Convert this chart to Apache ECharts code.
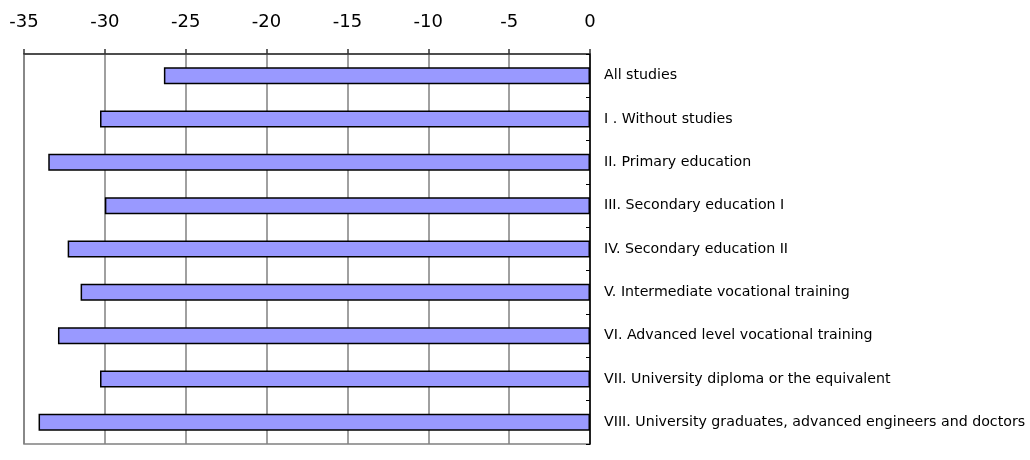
<!DOCTYPE html>
<html>
<head>
<meta charset="utf-8">
<script src="https://cdn.jsdelivr.net/npm/echarts@6/dist/echarts.min.js"></script>
<style>html,body{margin:0;padding:0;background:#fff}#c{width:1030px;height:460px}</style>
</head>
<body>
<div id="c"></div>
<script>
const categories = [
  "All studies",
  "I . Without studies",
  "II. Primary education",
  "III. Secondary education I",
  "IV. Secondary education II",
  "V. Intermediate vocational training",
  "VI. Advanced level vocational training",
  "VII. University diploma or the equivalent",
  "VIII. University graduates, advanced engineers and doctors"
];
const values = [-26.35, -30.3, -33.5, -30.0, -32.3, -31.5, -32.9, -30.3, -34.1];
const axisMin = -35, axisMax = 0, axisStep = 5;

const chart = echarts.init(document.getElementById('c'), null, {renderer: 'canvas'});
chart.setOption({
  animation: false,
  backgroundColor: '#fff',
  grid: {left: 24, right: 440, top: 54, bottom: 16, containLabel: false,
         show: true, borderColor: '#808080', borderWidth: 1.5, backgroundColor: 'transparent'},
  xAxis: {
    type: 'value', position: 'top', min: axisMin, max: axisMax, interval: axisStep,
    axisLine: {show: true, onZero: false, lineStyle: {color: '#333', width: 1.5}},
    axisTick: {show: true, length: 5, lineStyle: {color: '#333', width: 1.5}},
    axisLabel: {color: '#000', fontSize: 18, fontFamily: 'DejaVu Sans, sans-serif', margin: 23},
    splitLine: {show: true, lineStyle: {color: '#808080', width: 1.5}}
  },
  yAxis: {
    type: 'category', data: categories, inverse: true, position: 'right',
    axisLine: {show: true, onZero: false, lineStyle: {color: '#000', width: 1.5}},
    axisTick: {show: true, inside: true, length: 4, lineStyle: {color: '#000', width: 1}},
    axisLabel: {color: '#000', fontSize: 14.2, fontFamily: 'DejaVu Sans, sans-serif', margin: 14},
    splitLine: {show: false}
  },
  series: [{
    type: 'bar', data: values, barWidth: 17,
    itemStyle: {color: '#9999FF', borderColor: '#000', borderWidth: 1.5}
  }]
});
</script>
</body>
</html>
